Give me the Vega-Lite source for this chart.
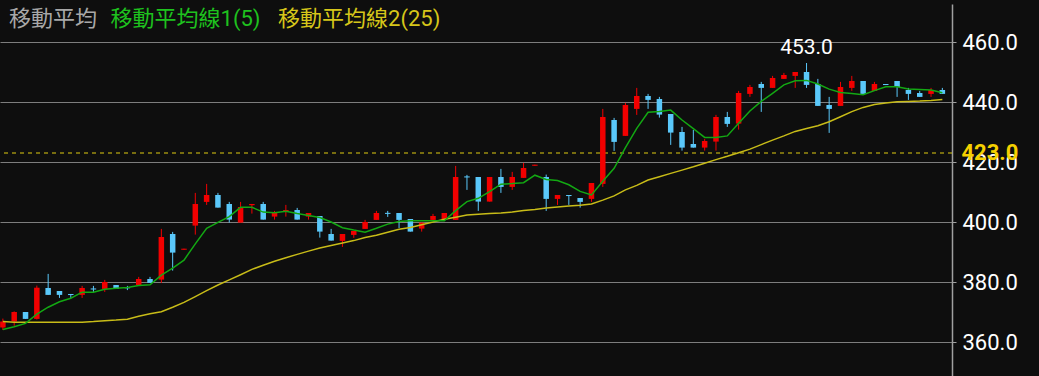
{
  "$schema": "https://vega.github.io/schema/vega-lite/v6.json",
  "width": 952,
  "height": 372,
  "autosize": "none",
  "padding": {"left": 0, "top": 4, "right": 87, "bottom": 0},
  "background": "#0e0e0e",
  "config": {"view": {"stroke": null}},
  "datasets": {
    "candles": [
      {"i":0,"o":364.8,"h":367.8,"l":364.0,"c":366.8,"ma5":364.2,"ma25":366.8},
      {"i":1,"o":366.8,"h":370.2,"l":365.4,"c":370.0,"ma5":365.1,"ma25":366.6},
      {"i":2,"o":370.0,"h":370.0,"l":367.7,"c":367.7,"ma5":366.2,"ma25":366.6},
      {"i":3,"o":367.7,"h":378.8,"l":367.5,"c":378.1,"ma5":369.3,"ma25":366.6},
      {"i":4,"o":378.0,"h":382.7,"l":375.7,"c":375.7,"ma5":371.6,"ma25":366.6},
      {"i":5,"o":377.0,"h":377.0,"l":374.7,"c":375.7,"ma5":373.4,"ma25":366.6},
      {"i":6,"o":376.0,"h":376.0,"l":374.7,"c":375.65,"ma5":374.6,"ma25":366.6},
      {"i":7,"o":375.7,"h":378.7,"l":374.7,"c":378.0,"ma5":376.6,"ma25":366.6},
      {"i":8,"o":377.85,"h":378.7,"l":376.7,"c":377.5,"ma5":376.6,"ma25":366.8},
      {"i":9,"o":377.7,"h":380.7,"l":376.7,"c":380.0,"ma5":377.6,"ma25":367.1},
      {"i":10,"o":379.0,"h":379.0,"l":377.7,"c":377.7,"ma5":377.9,"ma25":367.3},
      {"i":11,"o":378.25,"h":378.7,"l":377.3,"c":377.9,"ma5":378.2,"ma25":367.6},
      {"i":12,"o":379.0,"h":381.7,"l":379.0,"c":381.0,"ma5":378.8,"ma25":368.6},
      {"i":13,"o":381.0,"h":381.7,"l":379.7,"c":379.7,"ma5":379.1,"ma25":369.4},
      {"i":14,"o":380.8,"h":397.7,"l":379.7,"c":395.0,"ma5":382.3,"ma25":370.1},
      {"i":15,"o":396.0,"h":396.7,"l":383.8,"c":389.8,"ma5":384.6,"ma25":371.6},
      {"i":16,"o":390.75,"h":391.1,"l":390.75,"c":391.1,"ma5":387.3,"ma25":373.2},
      {"i":17,"o":398.8,"h":409.7,"l":395.8,"c":406.0,"ma5":392.7,"ma25":375.1},
      {"i":18,"o":406.7,"h":412.7,"l":405.7,"c":409.0,"ma5":397.9,"ma25":377.1},
      {"i":19,"o":409.0,"h":409.7,"l":404.8,"c":404.8,"ma5":399.9,"ma25":379.0},
      {"i":20,"o":406.0,"h":406.7,"l":399.8,"c":400.8,"ma5":401.8,"ma25":380.7},
      {"i":21,"o":399.8,"h":406.7,"l":399.8,"c":405.0,"ma5":404.9,"ma25":382.4},
      {"i":22,"o":405.6,"h":406.0,"l":402.8,"c":406.0,"ma5":404.9,"ma25":384.2},
      {"i":23,"o":406.0,"h":406.7,"l":400.8,"c":400.8,"ma5":403.3,"ma25":385.6},
      {"i":24,"o":401.8,"h":403.7,"l":400.8,"c":403.0,"ma5":403.1,"ma25":386.9},
      {"i":25,"o":403.5,"h":405.7,"l":401.8,"c":404.0,"ma5":403.6,"ma25":388.1},
      {"i":26,"o":404.0,"h":404.7,"l":400.8,"c":400.8,"ma5":402.8,"ma25":389.2},
      {"i":27,"o":401.8,"h":403.0,"l":400.8,"c":403.0,"ma5":402.2,"ma25":390.3},
      {"i":28,"o":402.0,"h":402.0,"l":394.8,"c":396.8,"ma5":401.5,"ma25":391.3},
      {"i":29,"o":396.0,"h":397.7,"l":393.8,"c":393.8,"ma5":400.0,"ma25":392.2},
      {"i":30,"o":393.7,"h":396.0,"l":391.7,"c":396.0,"ma5":398.1,"ma25":393.0},
      {"i":31,"o":395.7,"h":397.0,"l":394.7,"c":397.0,"ma5":397.3,"ma25":393.8},
      {"i":32,"o":397.7,"h":400.7,"l":397.7,"c":400.0,"ma5":396.6,"ma25":394.8},
      {"i":33,"o":400.7,"h":403.7,"l":400.7,"c":403.0,"ma5":397.9,"ma25":395.6},
      {"i":34,"o":403.05,"h":403.7,"l":401.7,"c":402.7,"ma5":399.3,"ma25":396.6},
      {"i":35,"o":403.0,"h":403.0,"l":398.0,"c":400.7,"ma5":400.2,"ma25":397.6},
      {"i":36,"o":401.0,"h":401.0,"l":396.8,"c":396.8,"ma5":400.4,"ma25":398.2},
      {"i":37,"o":397.8,"h":399.8,"l":396.8,"c":399.8,"ma5":400.4,"ma25":399.1},
      {"i":38,"o":400.7,"h":402.7,"l":400.7,"c":402.0,"ma5":400.4,"ma25":400.0},
      {"i":39,"o":400.7,"h":403.0,"l":400.7,"c":403.0,"ma5":400.4,"ma25":400.9},
      {"i":40,"o":400.7,"h":418.7,"l":400.7,"c":415.0,"ma5":403.8,"ma25":401.6},
      {"i":41,"o":415.2,"h":415.7,"l":410.7,"c":414.85,"ma5":406.8,"ma25":402.3},
      {"i":42,"o":415.0,"h":415.0,"l":403.7,"c":406.8,"ma5":407.9,"ma25":402.6},
      {"i":43,"o":406.8,"h":415.0,"l":406.8,"c":415.0,"ma5":410.1,"ma25":402.8},
      {"i":44,"o":415.0,"h":417.7,"l":409.7,"c":411.7,"ma5":412.6,"ma25":403.0},
      {"i":45,"o":411.7,"h":416.7,"l":410.7,"c":415.0,"ma5":412.8,"ma25":403.3},
      {"i":46,"o":414.7,"h":419.7,"l":414.7,"c":418.0,"ma5":413.1,"ma25":403.8},
      {"i":47,"o":418.75,"h":419.1,"l":418.75,"c":419.1,"ma5":415.6,"ma25":404.2},
      {"i":48,"o":415.0,"h":415.8,"l":403.7,"c":407.7,"ma5":414.2,"ma25":404.7},
      {"i":49,"o":407.7,"h":409.0,"l":405.7,"c":409.0,"ma5":413.8,"ma25":405.0},
      {"i":50,"o":409.0,"h":409.0,"l":405.7,"c":408.65,"ma5":412.4,"ma25":405.3},
      {"i":51,"o":408.0,"h":408.0,"l":404.8,"c":406.7,"ma5":410.2,"ma25":405.6},
      {"i":52,"o":407.7,"h":413.0,"l":406.7,"c":413.0,"ma5":409.0,"ma25":406.0},
      {"i":53,"o":412.7,"h":437.7,"l":411.7,"c":435.0,"ma5":413.6,"ma25":407.3},
      {"i":54,"o":434.0,"h":434.7,"l":423.7,"c":426.7,"ma5":417.9,"ma25":408.7},
      {"i":55,"o":428.7,"h":439.7,"l":428.7,"c":439.0,"ma5":424.8,"ma25":410.7},
      {"i":56,"o":437.7,"h":444.7,"l":435.7,"c":442.0,"ma5":431.2,"ma25":412.2},
      {"i":57,"o":442.0,"h":442.7,"l":437.7,"c":440.7,"ma5":436.6,"ma25":414.0},
      {"i":58,"o":441.0,"h":441.7,"l":434.8,"c":435.8,"ma5":436.8,"ma25":415.1},
      {"i":59,"o":436.0,"h":436.0,"l":425.7,"c":429.8,"ma5":437.3,"ma25":416.2},
      {"i":60,"o":430.0,"h":431.7,"l":423.8,"c":424.8,"ma5":434.0,"ma25":417.3},
      {"i":61,"o":426.0,"h":430.7,"l":424.8,"c":424.8,"ma5":431.1,"ma25":418.4},
      {"i":62,"o":424.8,"h":427.7,"l":423.8,"c":427.0,"ma5":428.2,"ma25":419.6},
      {"i":63,"o":426.8,"h":435.7,"l":423.8,"c":435.0,"ma5":428.2,"ma25":420.8},
      {"i":64,"o":435.0,"h":436.7,"l":431.7,"c":432.7,"ma5":428.7,"ma25":421.9},
      {"i":65,"o":432.8,"h":443.7,"l":430.8,"c":443.0,"ma5":432.9,"ma25":423.1},
      {"i":66,"o":442.7,"h":445.7,"l":441.7,"c":445.0,"ma5":437.0,"ma25":424.3},
      {"i":67,"o":446.0,"h":446.7,"l":436.7,"c":444.7,"ma5":440.2,"ma25":425.8},
      {"i":68,"o":444.7,"h":448.7,"l":444.7,"c":448.0,"ma5":442.9,"ma25":427.3},
      {"i":69,"o":447.7,"h":449.7,"l":447.7,"c":449.0,"ma5":445.7,"ma25":428.7},
      {"i":70,"o":448.7,"h":450.0,"l":444.7,"c":450.0,"ma5":447.1,"ma25":430.2},
      {"i":71,"o":450.0,"h":453.0,"l":444.7,"c":445.7,"ma5":447.2,"ma25":431.2},
      {"i":72,"o":446.0,"h":447.7,"l":438.7,"c":438.7,"ma5":446.0,"ma25":432.1},
      {"i":73,"o":439.0,"h":441.7,"l":429.7,"c":437.7,"ma5":444.3,"ma25":433.4},
      {"i":74,"o":438.7,"h":446.7,"l":438.7,"c":445.0,"ma5":443.2,"ma25":435.1},
      {"i":75,"o":444.7,"h":448.7,"l":443.7,"c":447.0,"ma5":442.8,"ma25":436.8},
      {"i":76,"o":447.0,"h":447.0,"l":442.7,"c":442.7,"ma5":442.4,"ma25":438.2},
      {"i":77,"o":443.7,"h":446.7,"l":443.7,"c":446.0,"ma5":443.8,"ma25":439.2},
      {"i":78,"o":446.0,"h":446.0,"l":445.65,"c":445.65,"ma5":445.1,"ma25":439.7},
      {"i":79,"o":447.0,"h":447.0,"l":441.7,"c":445.0,"ma5":445.1,"ma25":440.1},
      {"i":80,"o":444.0,"h":444.7,"l":440.7,"c":442.7,"ma5":444.3,"ma25":440.2},
      {"i":81,"o":443.0,"h":443.7,"l":441.7,"c":441.7,"ma5":444.2,"ma25":440.3},
      {"i":82,"o":442.7,"h":444.7,"l":441.7,"c":444.0,"ma5":444.0,"ma25":440.5},
      {"i":83,"o":444.0,"h":444.7,"l":442.7,"c":442.7,"ma5":443.1,"ma25":440.8}
    ]
  },
  "data": {"name": "candles"},
  "layer": [
    {
      "data": {"values": [{"price": 423}]},
      "mark": {"type": "rule", "color": "#e0cc10", "strokeWidth": 1, "strokeDash": [4, 4]},
      "encoding": {
        "y": {
          "field": "price", "type": "quantitative",
          "scale": {"domain": [348.667, 472.667], "nice": false, "zero": false},
          "axis": {
            "orient": "right", "title": null,
            "values": [360, 380, 400, 420, 440, 460], "format": ".1f",
            "labelFont": "Roboto", "labelFontSize": 22, "labelColor": "#ffffff",
            "labelPadding": 6, "tickSize": 4, "tickColor": "#a0a0a0",
            "domainColor": "#a0a0a0", "domainWidth": 1.5,
            "grid": true, "gridColor": "#7d7d7d", "gridWidth": 1
          }
        }
      }
    },
    {
      "mark": {"type": "rule", "strokeWidth": 1, "clip": true},
      "encoding": {
        "x": {"field": "i", "type": "quantitative", "scale": {"domain": [0.187, 83.41], "nice": false, "zero": false}, "axis": null},
        "y": {"field": "l", "type": "quantitative", "scale": {"domain": [348.667, 472.667], "nice": false, "zero": false}, "title": null},
        "y2": {"field": "h"},
        "color": {"condition": {"test": "datum.c >= datum.o", "value": "#f20000"}, "value": "#5ac8fa"}
      }
    },
    {
      "mark": {"type": "bar", "size": 5.5, "clip": true},
      "encoding": {
        "x": {"field": "i", "type": "quantitative", "scale": {"domain": [0.187, 83.41], "nice": false, "zero": false}, "axis": null},
        "y": {"field": "o", "type": "quantitative", "scale": {"domain": [348.667, 472.667], "nice": false, "zero": false}, "title": null},
        "y2": {"field": "c"},
        "color": {"condition": {"test": "datum.c >= datum.o", "value": "#f20000"}, "value": "#5ac8fa"}
      }
    },
    {
      "mark": {"type": "line", "color": "#c8bc18", "strokeWidth": 1.5, "clip": true},
      "encoding": {
        "x": {"field": "i", "type": "quantitative", "scale": {"domain": [0.187, 83.41], "nice": false, "zero": false}, "axis": null},
        "y": {"field": "ma25", "type": "quantitative", "scale": {"domain": [348.667, 472.667], "nice": false, "zero": false}, "title": null}
      }
    },
    {
      "mark": {"type": "line", "color": "#13a813", "strokeWidth": 1.5, "clip": true},
      "encoding": {
        "x": {"field": "i", "type": "quantitative", "scale": {"domain": [0.187, 83.41], "nice": false, "zero": false}, "axis": null},
        "y": {"field": "ma5", "type": "quantitative", "scale": {"domain": [348.667, 472.667], "nice": false, "zero": false}, "title": null}
      }
    },
    {
      "transform": [
        {"joinaggregate": [{"op": "max", "field": "h", "as": "maxh"}]},
        {"filter": "datum.h == datum.maxh"}
      ],
      "mark": {"type": "text", "align": "center", "baseline": "middle", "dy": -15, "font": "Roboto", "fontSize": 21, "color": "#ffffff"},
      "encoding": {
        "x": {"field": "i", "type": "quantitative"},
        "y": {"field": "h", "type": "quantitative", "title": null},
        "text": {"field": "h", "type": "quantitative", "format": ".1f"}
      }
    },
    {
      "data": {"values": [{"price": 423}]},
      "mark": {"type": "text", "align": "left", "baseline": "middle", "font": "Roboto", "fontSize": 22, "fontWeight": "bold", "color": "#f5d000"},
      "encoding": {
        "x": {"datum": 84.69, "type": "quantitative"},
        "y": {"field": "price", "type": "quantitative", "title": null},
        "text": {"field": "price", "type": "quantitative", "format": ".1f"}
      }
    },
    {
      "data": {"values": [{"label": "移動平均"}]},
      "mark": {"type": "text", "align": "left", "baseline": "middle", "font": "Roboto, Noto Sans CJK TC", "fontSize": 22, "color": "#a8a8a8"},
      "encoding": {
        "x": {"datum": 0.537, "type": "quantitative"},
        "y": {"datum": 467.57, "type": "quantitative"},
        "text": {"field": "label"}
      }
    },
    {
      "data": {"values": [{"label": "移動平均線1(5)"}]},
      "mark": {"type": "text", "align": "left", "baseline": "middle", "font": "Roboto, Noto Sans CJK TC", "fontSize": 22, "color": "#1ec21e"},
      "encoding": {
        "x": {"datum": 9.51, "type": "quantitative"},
        "y": {"datum": 467.57, "type": "quantitative"},
        "text": {"field": "label"}
      }
    },
    {
      "data": {"values": [{"label": "移動平均線2(25)"}]},
      "mark": {"type": "text", "align": "left", "baseline": "middle", "font": "Roboto, Noto Sans CJK TC", "fontSize": 22, "color": "#d6c61a"},
      "encoding": {
        "x": {"datum": 24.31, "type": "quantitative"},
        "y": {"datum": 467.57, "type": "quantitative"},
        "text": {"field": "label"}
      }
    }
  ]
}
